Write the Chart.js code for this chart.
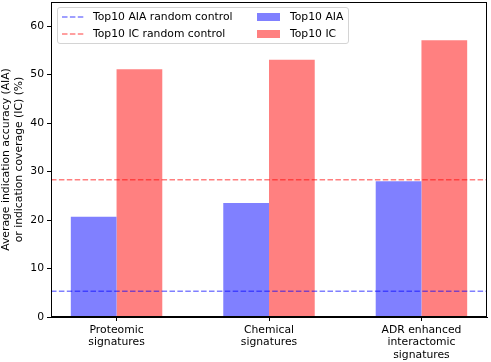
<!DOCTYPE html>
<html>
<head>
<meta charset="utf-8">
<script src="https://cdn.jsdelivr.net/npm/chart.js@4.4.0/dist/chart.umd.min.js"></script>
<style>
  body { margin: 0; background: #fff; }
  #wrap { position: relative; width: 491px; height: 362px; font-family: "DejaVu Sans", sans-serif; }
  #legend {
    position: absolute; left: 57px; top: 7px; width: 290px; height: 35px;
    border: 1px solid #d4d4d4; border-radius: 3px; background: rgba(255,255,255,0.8);
    font-size: 10.8px; color: #000;
  }
  .item { position: absolute; height: 12px; line-height: 12px; white-space: nowrap; }
  .item svg { position: absolute; left: 0; top: 0; }
  .item span { position: absolute; top: 0; }
</style>
</head>
<body>
<div id="wrap">
  <canvas id="chart" width="491" height="362"></canvas>
  <div id="legend"></div>
</div>
<script>
const categories = [['Proteomic', 'signatures'], ['Chemical', 'signatures'], ['ADR enhanced', 'interactomic', 'signatures']];
const aiaValues = [20.7, 23.5, 28.0];
const icValues = [51.1, 53.1, 57.1];
const aiaRandom = 5.3;
const icRandom = 28.3;
const yTicks = [0, 10, 20, 30, 40, 50, 60];
const xRange = [-0.43, 2.43];

const blue = 'rgba(0,0,255,0.5)';
const red = 'rgba(255,0,0,0.5)';
const font = { family: 'DejaVu Sans', size: 10.8 };

const hline = (label, y, color) => ({
  type: 'line',
  label,
  data: xRange.map(x => ({ x, y })),
  borderColor: color,
  borderWidth: 1.5,
  borderDash: [5.5, 2.4],
  pointRadius: 0,
  order: 0,
});

const bars = (label, values, color) => ({
  type: 'bar',
  label,
  data: values.map((y, x) => ({ x, y })),
  backgroundColor: color,
  borderWidth: 0,
  categoryPercentage: 0.6,
  barPercentage: 1,
  order: 1,
});

// column-major like the original legend
const datasets = [
  hline('Top10 AIA random control', aiaRandom, blue),
  hline('Top10 IC random control', icRandom, red),
  bars('Top10 AIA', aiaValues, '#8080ff'),
  bars('Top10 IC', icValues, '#ff8080'),
];

const frame = {
  id: 'frame',
  afterDraw(chart) {
    const { ctx, chartArea: a } = chart;
    ctx.save();
    ctx.strokeStyle = '#000';
    ctx.lineWidth = 1;
    ctx.strokeRect(Math.round(a.left) + 0.5, Math.round(a.top) + 0.5, Math.round(a.right - a.left) - 1, Math.round(a.bottom - a.top) - 1);
    ctx.restore();
  },
};

new Chart(document.getElementById('chart'), {
  data: { datasets },
  plugins: [frame],
  options: {
    responsive: false,
    animation: false,
    layout: { padding: { top: 2, right: 4, left: 0, bottom: 0 } },
    plugins: { legend: { display: false }, tooltip: { enabled: false } },
    scales: {
      x: {
        type: 'linear',
        offset: false,
        min: xRange[0],
        max: xRange[1],
        afterBuildTicks: s => { s.ticks = categories.map((_, i) => ({ value: i })); },
        afterFit: s => { s.height = 45; s.paddingLeft = 0; s.paddingRight = 0; },
        ticks: {
          callback: v => categories[v],
          color: '#000',
          font: { ...font, lineHeight: 1.15 },
          padding: 3,
          maxRotation: 0,
          autoSkip: false,
        },
        grid: { offset: false, drawOnChartArea: false, tickLength: 4, color: '#000' },
        border: { color: '#000' },
      },
      y: {
        min: 0,
        max: 65,
        afterBuildTicks: s => { s.ticks = yTicks.map(value => ({ value })); },
        afterFit: s => { s.width = 51; s.paddingTop = 0; s.paddingBottom = 0; },
        ticks: { color: '#000', font, padding: 3 },
        grid: { drawOnChartArea: false, tickLength: 4, color: '#000' },
        border: { color: '#000' },
        title: {
          display: true,
          text: ['Average indication accuracy (AIA)', 'or indication coverage (IC) (%)'],
          color: '#000',
          font: { ...font, lineHeight: 1.18 },
          padding: { top: 0, bottom: 0 },
        },
      },
    },
  },
});

// legend, two columns like matplotlib's ncol=2
const legend = document.getElementById('legend');
const slots = [[4, 3], [4, 20], [199, 3], [199, 20]];
datasets.forEach((d, i) => {
  const [left, top] = slots[i];
  const item = document.createElement('div');
  item.className = 'item';
  item.style.left = left + 'px';
  item.style.top = top + 'px';
  let handle;
  if (d.type === 'line') {
    handle = `<svg width="23" height="12"><line x1="0" y1="6" x2="23" y2="6" stroke="${d.borderColor}" stroke-width="1.5" stroke-dasharray="5.5 2.4"/></svg>`;
  } else {
    handle = `<svg width="23" height="12"><rect x="0" y="2" width="23" height="8" fill="${d.backgroundColor}"/></svg>`;
  }
  item.innerHTML = handle + `<span style="left:${i < 2 ? 31 : 33}px">${d.label}</span>`;
  legend.appendChild(item);
});
</script>
</body>
</html>
